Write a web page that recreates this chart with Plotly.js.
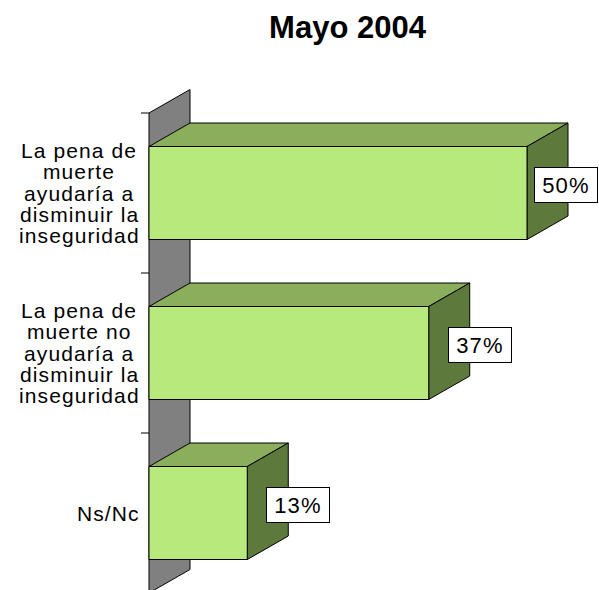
<!DOCTYPE html>
<html><head><meta charset="utf-8">
<script src="https://cdn.plot.ly/plotly-3.0.1.min.js"></script>
<style>html,body{margin:0;padding:0;background:#fff}#chart{width:599px;height:590px}</style>
</head><body><div id="chart"></div>
<script>
// ---- data ----
const categories = ['La pena de<br>muerte<br>ayudaría a<br>disminuir la<br>inseguridad',
                    'La pena de<br>muerte no<br>ayudaría a<br>disminuir la<br>inseguridad',
                    'Ns/Nc'];
const values = [50, 37, 13];
const valueLabels = ['50%', '37%', '13%'];
const chartTitle = 'Mayo 2004';

// ---- geometry ----
const W = 599, H = 590;
const ML = 130, MR = 0, MT = 80, MB = 0;
const plotW = W - ML - MR, plotH = H - MT - MB;
const zeroPx = 149, pxPerUnit = 7.56, bandPx = 160, firstBandTop = 113;
const xMin = -(zeroPx - ML) / pxPerUnit, xMax = (W - MR - zeroPx) / pxPerUnit;
const yTop = -0.5 - (firstBandTop - MT) / bandPx;
const yBot = yTop + plotH / bandPx;
const dX = 41 / pxPerUnit, dY = 23.5 / bandPx, hB = 46.5 / bandPx;
const n = categories.length;
const FONT = '"Liberation Sans", Arial, sans-serif';
const frontCol = '#B7E97D', topCol = '#8AAE5C', sideCol = '#5E793C', wallCol = '#808080';

function poly(xs, ys, col) {
  return {type: 'scatter', mode: 'lines', x: xs.concat([xs[0]]), y: ys.concat([ys[0]]),
    fill: 'toself', fillcolor: col, line: {color: '#000', width: 1},
    hoverinfo: 'skip', showlegend: false};
}
const traces = [];
// back wall
traces.push(poly([0, dX, dX, 0], [-0.5, -0.5 - dY, n - 0.5 - dY, n - 0.5], wallCol));
// tick marks
const tx = [], ty = [];
for (let k = 0; k <= n; k++) { tx.push(-8 / pxPerUnit, 0, null); ty.push(k - 0.5, k - 0.5, null); }
traces.push({type: 'scatter', mode: 'lines', x: tx, y: ty, line: {color: '#000', width: 1}, hoverinfo: 'skip', showlegend: false});
// bars
values.forEach((v, i) => {
  traces.push(poly([0, v, v + dX, dX], [i - hB, i - hB, i - hB - dY, i - hB - dY], topCol));
  traces.push(poly([v, v + dX, v + dX, v], [i - hB, i - hB - dY, i + hB - dY, i + hB], sideCol));
  traces.push(poly([0, v, v, 0], [i - hB, i - hB, i + hB, i + hB], frontCol));
});

// ---- annotations ----
const cv = document.createElement('canvas').getContext('2d');
const LBL_SIZE = 21, LS = 1.1, LINE = 21.3, CAP = 15, RIGHT = 139.5;
cv.font = LBL_SIZE + 'px ' + FONT;
const annotations = [];
categories.forEach((c, i) => {
  const lines = c.split('<br>');
  const widths = lines.map(t => cv.measureText(t).width + LS * t.length);
  const bw = Math.max.apply(null, widths);
  const cx = RIGHT - bw / 2;
  const blockH = CAP + (lines.length - 1) * LINE;
  lines.forEach((t, k) => {
    const off = -blockH / 2 + CAP / 2 + k * LINE; // px below category center
    annotations.push({xref: 'paper', yref: 'y', x: (cx - ML) / plotW, y: i, yshift: -off,
      xanchor: 'center', yanchor: 'middle', showarrow: false,
      text: '<span style="letter-spacing:' + LS + 'px">' + t + '</span>',
      font: {family: FONT, size: LBL_SIZE, color: '#000'}});
  });
});
const BOXW = 64;
values.forEach((v, i) => {
  const endPx = zeroPx + v * pxPerUnit;
  const left = Math.min(endPx + 19, W - 1 - BOXW);
  annotations.push({xref: 'paper', yref: 'y', x: (left - ML) / plotW, y: i, yshift: 8,
    xanchor: 'left', yanchor: 'middle', showarrow: false,
    text: '<span style="letter-spacing:1.2px">' + valueLabels[i] + '</span>',
    font: {family: FONT, size: 22, color: '#000'}, bgcolor: '#fff', bordercolor: '#000',
    borderwidth: 1, borderpad: 4, width: 54, height: 26, align: 'center'});
});

const layout = {
  width: W, height: H, margin: {l: ML, r: MR, t: MT, b: MB, pad: 0},
  paper_bgcolor: '#fff', plot_bgcolor: 'rgba(0,0,0,0)', showlegend: false,
  title: {text: '<b>' + chartTitle + '</b>', font: {family: FONT, size: 31, color: '#000'},
    xref: 'container', yref: 'container', x: 347.5 / W, xanchor: 'center', y: 1 - 27.5 / H, yanchor: 'middle'},
  xaxis: {range: [xMin, xMax], visible: false, fixedrange: true},
  yaxis: {range: [yBot, yTop], visible: false, fixedrange: true},
  annotations: annotations
};
Plotly.newPlot('chart', traces, layout, {displayModeBar: false, staticPlot: true});
</script></body></html>
